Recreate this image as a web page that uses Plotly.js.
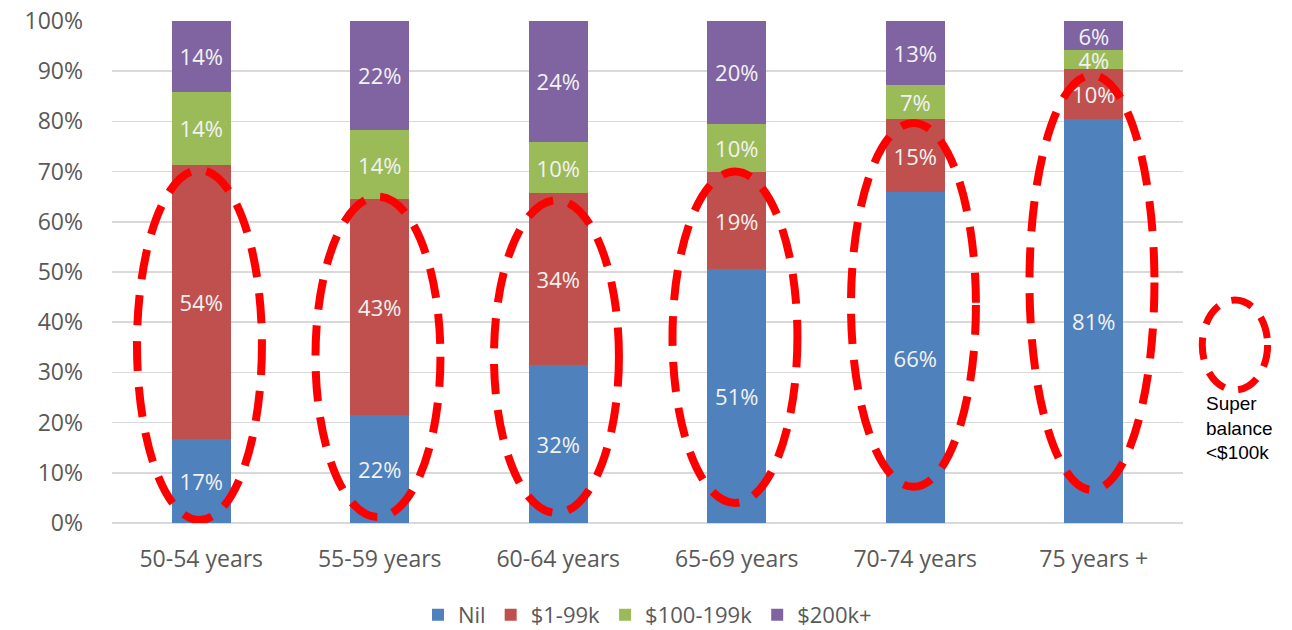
<!DOCTYPE html>
<html>
<head>
<meta charset="utf-8">
<script src="https://cdn.plot.ly/plotly-3.0.1.min.js"></script>
<style>html,body{margin:0;padding:0;background:#fff;}#chart{width:1292px;height:630px;}</style>
</head>
<body>
<div id="chart"></div>
<script>
const categories = ["50-54 years", "55-59 years", "60-64 years", "65-69 years", "70-74 years", "75 years +"];
const seriesNames = ["Nil", "$1-99k", "$100-199k", "$200k+"];
const nilValues = [16.7, 21.5, 31.5, 50.6, 65.9, 80.5];
const lowValues = [54.6, 43.0, 34.2, 19.3, 14.6, 9.9];
const midValues = [14.6, 13.8, 10.2, 9.6, 6.8, 3.8];
const highValues = [14.1, 21.7, 24.1, 20.5, 12.7, 5.8];
const nilLabels = ["17%", "22%", "32%", "51%", "66%", "81%"];
const lowLabels = ["54%", "43%", "34%", "19%", "15%", "10%"];
const midLabels = ["14%", "14%", "10%", "10%", "7%", "4%"];
const highLabels = ["14%", "22%", "24%", "20%", "13%", "6%"];
const colors = ["#4F81BD", "#C0504D", "#9BBB59", "#8064A2"];
const ellipseBottom = [0.6, 1.2, 2.0, 4.0, 7.2, 6.6];
const ellipseTop = [70.3, 65.0, 64.3, 70.0, 79.7, 89.2];
const noteText = "Super<br>balance<br>&lt;$100k";

const FONT = "'Open Sans', Lato, sans-serif";
const vals = [nilValues, lowValues, midValues, highValues];
const labs = [nilLabels, lowLabels, midLabels, highLabels];
const traces = vals.map((v, i) => ({
  type: 'bar',
  x: categories,
  y: v,
  name: seriesNames[i],
  text: labs[i],
  textposition: 'inside',
  insidetextanchor: 'middle',
  constraintext: 'none',
  textangle: 0,
  textfont: {family: FONT, size: 22, color: '#F2F2F2'},
  marker: {color: colors[i], line: {width: 0}},
  hoverinfo: 'skip'
}));

const shapes = categories.map((c, i) => ({
  type: 'circle',
  xref: 'x', yref: 'y',
  x0: i - 0.36, x1: i + 0.34,
  y0: ellipseBottom[i], y1: ellipseTop[i],
  line: {color: '#FF0000', width: 8, dash: '30px,16px'},
  layer: 'above'
}));
shapes.push({
  type: 'circle', xref: 'paper', yref: 'paper',
  x0: 1.018, x1: 1.079, y0: 0.265, y1: 0.444,
  line: {color: '#FF0000', width: 7, dash: '22px,14px'},
  layer: 'above'
});

const layout = {
  width: 1292, height: 630,
  margin: {l: 112, r: 109, t: 21, b: 107, autoexpand: false},
  paper_bgcolor: '#fff', plot_bgcolor: '#fff',
  barmode: 'stack',
  bargap: 0.67,
  font: {family: FONT, color: '#595959', size: 23},
  showlegend: true,
  legend: {orientation: 'h', x: 0.5, xanchor: 'center', y: -0.183, yanchor: 'middle',
           font: {family: FONT, size: 22, color: '#595959'}, traceorder: 'normal',
           itemwidth: 30, itemsizing: 'constant', tracegroupgap: 0},
  xaxis: {type: 'category', showgrid: false, showline: false, zeroline: false, ticks: '',
          tickfont: {family: FONT, size: 23, color: '#595959'}, ticklabelstandoff: 20,
          range: [-0.5, 5.5]},
  yaxis: {range: [0, 100], tickvals: [0,10,20,30,40,50,60,70,80,90,100],
          ticktext: ["0%","10%","20%","30%","40%","50%","60%","70%","80%","90%","100%"],
          showgrid: true, gridcolor: '#D9D9D9', gridwidth: 1.5, zeroline: true, zerolinecolor: '#D9D9D9', zerolinewidth: 1.5,
          showline: false, ticks: '', ticklabelstandoff: 28,
          tickfont: {family: FONT, size: 23, color: '#595959'}},
  shapes: shapes,
  annotations: [{
    xref: 'paper', yref: 'paper', x: 1.02, y: 0.19, xanchor: 'left', yanchor: 'middle',
    text: noteText, showarrow: false, align: 'left',
    font: {family: "'Liberation Sans', Arial, sans-serif", size: 19, color: '#000'}
  }]
};

Plotly.newPlot('chart', traces, layout, {displayModeBar: false, staticPlot: true});
</script>
</body>
</html>
